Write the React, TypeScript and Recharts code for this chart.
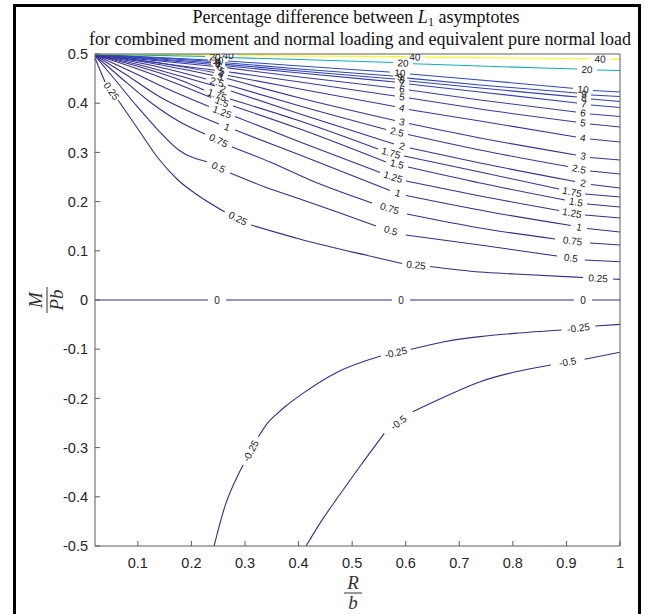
import React from 'react';
import { ComposedChart, Line, Scatter, XAxis, YAxis } from 'recharts';

type Pt = [number, number];
type Seg = Pt[];

const X_DOMAIN: [number, number] = [0.02, 1];
const Y_DOMAIN: [number, number] = [-0.5, 0.5];
const X_TICKS = [0.1, 0.2, 0.3, 0.4, 0.5, 0.6, 0.7, 0.8, 0.9, 1];
const Y_TICKS = [-0.5, -0.4, -0.3, -0.2, -0.1, 0, 0.1, 0.2, 0.3, 0.4, 0.5];
const LEVELS = [-0.5, -0.25, 0, 0.25, 0.5, 0.75, 1, 1.25, 1.5, 1.75, 2, 2.5, 3, 4, 5, 6, 7, 8, 9, 10, 20, 40];

// Contour lines (segments separated where the inline labels sit) and label positions
const cM050: Seg[] = [
  [[0.414, -0.5], [0.444, -0.447], [0.474, -0.4], [0.514, -0.339], [0.56, -0.271]],
  [[0.613, -0.227], [0.673, -0.1965], [0.739, -0.166], [0.805, -0.146], [0.871, -0.132]],
  [[0.934, -0.1205], [1.0, -0.1063]],
];
const lM050: Pt[] = [[0.5865, -0.249], [0.9025, -0.126]];

const cM025: Seg[] = [
  [[0.2423, -0.5], [0.2623, -0.42], [0.2886, -0.352], [0.2966, -0.3354]],
  [[0.325, -0.278], [0.3416, -0.2506], [0.358, -0.233], [0.3747, -0.2169], [0.408, -0.1897], [0.474, -0.1457], [0.5535, -0.1138]],
  [[0.6097, -0.1003], [0.6726, -0.0847], [0.7387, -0.0745], [0.8036, -0.0678], [0.891, -0.061]],
  [[0.954, -0.0528], [1.0, -0.0495]],
];
const lM025: Pt[] = [[0.3108, -0.3067], [0.5816, -0.107], [0.9225, -0.0569]];

const c000: Seg[] = [
  [[0.02, 0], [0.2309, 0]],
  [[0.2645, 0], [0.5744, 0]],
  [[0.608, 0], [0.9141, 0]],
  [[0.9478, 0], [1, 0]],
];
const l000: Pt[] = [[0.2477, 0], [0.5912, 0], [0.931, 0]];

const c025: Seg[] = [
  [[0.02, 0.4919], [0.0387, 0.4431]],
  [[0.0629, 0.4065], [0.104, 0.3415], [0.1376, 0.2886], [0.1749, 0.2439], [0.2085, 0.2154], [0.2623, 0.1789]],
  [[0.3112, 0.1524], [0.4083, 0.122], [0.5408, 0.0874], [0.593, 0.0742]],
  [[0.6454, 0.0681], [0.7387, 0.0569], [0.804, 0.0528], [0.931, 0.0457]],
  [[0.987, 0.0427], [1.0, 0.042]],
];
const l025: Pt[] = [[0.0508, 0.4248], [0.2868, 0.1656], [0.6192, 0.0711], [0.959, 0.0442]];

const c050: Seg[] = [
  [[0.02, 0.496], [0.0517, 0.4553], [0.0947, 0.3984], [0.1376, 0.3455], [0.1761, 0.3049], [0.2291, 0.2811]],
  [[0.272, 0.2581], [0.3373, 0.2297], [0.4079, 0.2033], [0.4774, 0.1768], [0.5446, 0.1504]],
  [[0.5998, 0.1321], [0.7387, 0.1118], [0.8824, 0.0894]],
  [[0.9341, 0.0813], [1.0, 0.0778]],
];
const l050: Pt[] = [[0.2506, 0.2696], [0.5722, 0.1413], [0.9083, 0.0854]];

const c075: Seg[] = [
  [[0.02, 0.497], [0.0667, 0.4533], [0.1227, 0.4024], [0.1787, 0.3618], [0.2253, 0.3374]],
  [[0.2757, 0.311], [0.3467, 0.2805], [0.4213, 0.2439], [0.5371, 0.1972]],
  [[0.6024, 0.1748], [0.7387, 0.1463], [0.8787, 0.124]],
  [[0.944, 0.1159], [1.0, 0.1118]],
];
const l075: Pt[] = [[0.2505, 0.3242], [0.5698, 0.186], [0.9114, 0.12]];

const c100: Seg[] = [
  [[0.02, 0.498], [0.076, 0.4593], [0.1413, 0.4126], [0.2067, 0.378], [0.2515, 0.3577]],
  [[0.2813, 0.3455], [0.4027, 0.2947], [0.5707, 0.2226]],
  [[0.6005, 0.2124], [0.7574, 0.1789], [0.9086, 0.1514]],
  [[0.9384, 0.1453], [1.0, 0.1382]],
];
const l100: Pt[] = [[0.2664, 0.3516], [0.5856, 0.2175], [0.9235, 0.1484]];

const c125: Seg[] = [
  [[0.02, 0.498], [0.0853, 0.4654], [0.16, 0.4268], [0.2328, 0.3933]],
  [[0.2813, 0.373], [0.4027, 0.3211], [0.552, 0.2591]],
  [[0.6005, 0.2419], [0.7387, 0.2114], [0.8862, 0.1819]],
  [[0.9347, 0.1728], [1.0, 0.1667]],
];
const l125: Pt[] = [[0.2571, 0.3821], [0.5763, 0.25], [0.9104, 0.1768]];

const c150: Seg[] = [
  [[0.02, 0.498], [0.0947, 0.4715], [0.1693, 0.4411], [0.2365, 0.4116]],
  [[0.2776, 0.3943], [0.4027, 0.3476], [0.5632, 0.2805]],
  [[0.6043, 0.2703], [0.7387, 0.2378], [0.8974, 0.2033]],
  [[0.9384, 0.1951], [1.0, 0.189]],
];
const l150: Pt[] = [[0.2571, 0.4024], [0.5837, 0.2764], [0.9179, 0.1992]];

const c175: Seg[] = [
  [[0.02, 0.498], [0.104, 0.4736], [0.1787, 0.4472], [0.2235, 0.4268]],
  [[0.272, 0.4085], [0.4027, 0.3638], [0.5483, 0.3069]],
  [[0.5968, 0.2927], [0.7387, 0.2602], [0.8862, 0.2256]],
  [[0.9347, 0.2154], [1.0, 0.2093]],
];
const l175: Pt[] = [[0.2477, 0.4167], [0.5725, 0.2988], [0.9104, 0.2195]];

const c200: Seg[] = [
  [[0.02, 0.498], [0.104, 0.4776], [0.1787, 0.4553], [0.244, 0.435]],
  [[0.2739, 0.4248], [0.4027, 0.378], [0.5781, 0.3171]],
  [[0.608, 0.3089], [0.7387, 0.2785], [0.916, 0.2409]],
  [[0.9459, 0.2348], [1.0, 0.2276]],
];
const l200: Pt[] = [[0.2589, 0.4289], [0.5931, 0.313], [0.931, 0.2378]];

const c250: Seg[] = [
  [[0.02, 0.498], [0.1227, 0.4776], [0.2272, 0.4492]],
  [[0.2683, 0.437], [0.4027, 0.3943], [0.5632, 0.3466]],
  [[0.6043, 0.3364], [0.7387, 0.3049], [0.9029, 0.2713]],
  [[0.944, 0.2622], [1.0, 0.2561]],
];
const l250: Pt[] = [[0.2477, 0.4431], [0.5837, 0.3415], [0.9235, 0.2663]];

const c300: Seg[] = [
  [[0.02, 0.498], [0.1227, 0.4817], [0.2403, 0.4563]],
  [[0.2664, 0.4502], [0.4027, 0.4106], [0.58, 0.3648]],
  [[0.6061, 0.3587], [0.7387, 0.3293], [0.9179, 0.2947]],
  [[0.944, 0.2896], [1.0, 0.2846]],
];
const l300: Pt[] = [[0.2533, 0.4533], [0.5931, 0.3618], [0.931, 0.2927]];

const c400: Seg[] = [
  [[0.02, 0.4984], [0.1413, 0.4817], [0.2421, 0.4624]],
  [[0.2683, 0.4563], [0.4027, 0.4289], [0.58, 0.3933]],
  [[0.6061, 0.3872], [0.7387, 0.3638], [0.9179, 0.3313]],
  [[0.944, 0.3272], [1.0, 0.3211]],
];
const l400: Pt[] = [[0.2552, 0.4593], [0.5931, 0.3902], [0.931, 0.3293]];

const c500: Seg[] = [
  [[0.02, 0.4986], [0.244, 0.4671]],
  [[0.2701, 0.4634], [0.4027, 0.4431], [0.58, 0.4146]],
  [[0.6061, 0.4106], [0.7387, 0.3882], [0.9179, 0.3618]],
  [[0.944, 0.3577], [1.0, 0.3516]],
];
const l500: Pt[] = [[0.2571, 0.4654], [0.5931, 0.4126], [0.931, 0.3598]];

const c600: Seg[] = [
  [[0.02, 0.4988], [0.2403, 0.4752]],
  [[0.2664, 0.472], [0.4027, 0.4533], [0.58, 0.4309]],
  [[0.6061, 0.4268], [0.7387, 0.4065], [0.9179, 0.3821]],
  [[0.944, 0.378], [1.0, 0.373]],
];
const l600: Pt[] = [[0.2533, 0.4736], [0.5931, 0.4289], [0.931, 0.3801]];

const c700: Seg[] = [
  [[0.02, 0.499], [0.2365, 0.4793]],
  [[0.2627, 0.476], [0.4027, 0.4614], [0.58, 0.4431]],
  [[0.6061, 0.439], [0.7387, 0.4228], [0.9198, 0.4004]],
  [[0.9459, 0.3963], [1.0, 0.3913]],
];
const l700: Pt[] = [[0.2496, 0.4776], [0.5931, 0.4411], [0.9328, 0.3984]];

const c800: Seg[] = [
  [[0.02, 0.4992], [0.2365, 0.4823]],
  [[0.2627, 0.4791], [0.4027, 0.4654], [0.58, 0.4492]],
  [[0.6061, 0.4451], [0.7387, 0.4309], [0.9198, 0.4126]],
  [[0.9459, 0.4085], [1.0, 0.4034]],
];
const l800: Pt[] = [[0.2496, 0.4807], [0.5931, 0.4472], [0.9328, 0.4106]];

const c900: Seg[] = [
  [[0.02, 0.4994], [0.2365, 0.4852]],
  [[0.2627, 0.4823], [0.4027, 0.4695], [0.5763, 0.4553]],
  [[0.6024, 0.4512], [0.7387, 0.437], [0.9198, 0.4207]],
  [[0.9459, 0.4167], [1.0, 0.4136]],
];
const l900: Pt[] = [[0.2496, 0.4837], [0.5893, 0.4533], [0.9328, 0.4187]];

const c1000: Seg[] = [
  [[0.02, 0.4996], [0.2309, 0.4878]],
  [[0.2683, 0.4858], [0.4027, 0.4756], [0.5707, 0.4634]],
  [[0.608, 0.4593], [0.7387, 0.4472], [0.9122, 0.4303]],
  [[0.9496, 0.4258], [1.0, 0.4228]],
];
const l1000: Pt[] = [[0.2496, 0.4868], [0.5893, 0.4614], [0.931, 0.4278]];

const c2000: Seg[] = [
  [[0.02, 0.4998], [0.2253, 0.4951]],
  [[0.2627, 0.4929], [0.4027, 0.4888], [0.5763, 0.4827]],
  [[0.6136, 0.4801], [0.7387, 0.4756], [0.9198, 0.4695]],
  [[0.9571, 0.4675], [1.0, 0.4665]],
];
const l2000: Pt[] = [[0.244, 0.4939], [0.5949, 0.4817], [0.9384, 0.4685]];

const c4000: Seg[] = [
  [[0.02, 0.4999], [0.2496, 0.498]],
  [[0.2869, 0.4965], [0.6024, 0.4947]],
  [[0.636, 0.4937], [0.944, 0.4902]],
  [[0.9814, 0.4894], [1.0, 0.489]],
];
const l4000: Pt[] = [[0.2683, 0.497], [0.6173, 0.4939], [0.9627, 0.4898]];

const CONTOUR_SEGS: Seg[][] = [cM050, cM025, c000, c025, c050, c075, c100, c125, c150, c175, c200, c250, c300, c400, c500, c600, c700, c800, c900, c1000, c2000, c4000];
const CONTOUR_LABELS: Pt[][] = [lM050, lM025, l000, l025, l050, l075, l100, l125, l150, l175, l200, l250, l300, l400, l500, l600, l700, l800, l900, l1000, l2000, l4000];

// ---- layout / style ----
const W = 645;
const H = 614;
const PLOT_L = 95;
const PLOT_R = 620;
const PLOT_T = 54;
const PLOT_B = 546;
const PX_PER_X = (PLOT_R - PLOT_L) / (X_DOMAIN[1] - X_DOMAIN[0]);
const PX_PER_Y = (PLOT_B - PLOT_T) / (Y_DOMAIN[1] - Y_DOMAIN[0]);

// parula colormap rows (index out of 63, r, g, b)
const PARULA: [number, number, number, number][] = [
  [0, 0.2081, 0.1663, 0.5292],
  [1, 0.2116, 0.1898, 0.5777],
  [2, 0.2123, 0.2138, 0.627],
  [3, 0.2081, 0.2386, 0.6771],
  [4, 0.1959, 0.2645, 0.7279],
  [5, 0.1707, 0.2919, 0.7792],
  [6, 0.1253, 0.3242, 0.8303],
  [8, 0.0117, 0.3875, 0.882],
  [12, 0.0498, 0.4586, 0.8641],
  [16, 0.0793, 0.52, 0.8312],
  [20, 0.0343, 0.5966, 0.8199],
  [24, 0.0228, 0.6535, 0.7768],
  [28, 0.0843, 0.6928, 0.7062],
  [32, 0.2178, 0.725, 0.6193],
  [63, 0.9763, 0.9831, 0.0538],
];

function parulaAt(p: number): string {
  let i = 0;
  while (i < PARULA.length - 2 && PARULA[i + 1][0] < p) i++;
  const a = PARULA[i];
  const b = PARULA[i + 1];
  const f = Math.max(0, Math.min(1, (p - a[0]) / (b[0] - a[0])));
  const c = [1, 2, 3].map((k) => Math.round((a[k] + (b[k] - a[k]) * f) * 255));
  return `rgb(${c[0]},${c[1]},${c[2]})`;
}

// colour position of each level on the colormap as it appears in the figure
function levelColor(level: number): string {
  if (level <= 10) return parulaAt(Math.max(0, (level + 0.5) * 0.45));
  return parulaAt(27 + ((level - 20) / 20) * (63 - 27));
}

const series = LEVELS.map((level, idx) => {
  const segs = CONTOUR_SEGS[idx];
  const labels = CONTOUR_LABELS[idx];
  const data: { x: number; y: number | null }[] = [];
  segs.forEach((s, i) => {
    if (i > 0) data.push({ x: labels[i - 1][0], y: null });
    s.forEach(([x, y]) => data.push({ x, y }));
  });
  const labelData = labels.map(([x, y], i) => {
    const a = segs[i][segs[i].length - 1];
    const b = segs[i + 1][0];
    const dx = (b[0] - a[0]) * PX_PER_X;
    const dy = -(b[1] - a[1]) * PX_PER_Y;
    let ang = (Math.atan2(dy, dx) * 180) / Math.PI;
    if (ang > 90) ang -= 180;
    if (ang < -90) ang += 180;
    return { x, y, text: String(level), angle: ang };
  });
  return { level, color: levelColor(level), data, labelData };
});

const ALL_LABELS = series.flatMap((s) => s.labelData);

const fmtTick = (v: number) => String(Math.round(v * 10) / 10);

const LabelShape = (props: any) => {
  const { cx, cy, payload } = props;
  if (cx == null || cy == null) return <g />;
  return (
    <text
      x={cx}
      y={cy}
      transform={`rotate(${payload.angle} ${cx} ${cy})`}
      textAnchor="middle"
      dominantBaseline="central"
      fontSize={10}
      fontFamily="'Liberation Sans', Arial, sans-serif"
      fill="#1a1a1a"
    >
      {payload.text}
    </text>
  );
};

const AXIS_COLOR = '#5c5c5c';
const TICK_STYLE = { fill: '#262626', fontSize: 14.5, fontFamily: "'Liberation Sans', Arial, sans-serif" };

export default function App() {
  return (
    <div style={{ position: 'absolute', left: 0, top: 0, width: W, height: H, background: '#fff' }}>
      <ComposedChart
        width={W}
        height={H}
        margin={{ top: PLOT_T - 5, right: W - PLOT_R - 5, bottom: H - PLOT_B - 30, left: PLOT_L - 45 }}
      >
        <XAxis
          xAxisId="b"
          type="number"
          dataKey="x"
          domain={X_DOMAIN}
          ticks={X_TICKS}
          allowDataOverflow
          interval={0}
          orientation="bottom"
          height={30}
          stroke={AXIS_COLOR}
          tickSize={-5}
          tickMargin={17}
          tick={TICK_STYLE}
          tickFormatter={fmtTick}
        />
        <XAxis
          xAxisId="t"
          type="number"
          dataKey="x"
          domain={X_DOMAIN}
          ticks={X_TICKS}
          allowDataOverflow
          interval={0}
          orientation="top"
          height={5}
          stroke={AXIS_COLOR}
          tickSize={-5}
          tick={false}
        />
        <YAxis
          yAxisId="l"
          type="number"
          dataKey="y"
          domain={Y_DOMAIN}
          ticks={Y_TICKS}
          allowDataOverflow
          interval={0}
          orientation="left"
          width={45}
          stroke={AXIS_COLOR}
          tickSize={-5}
          tickMargin={12}
          tick={TICK_STYLE}
          tickFormatter={fmtTick}
        />
        <YAxis
          yAxisId="r"
          type="number"
          dataKey="y"
          domain={Y_DOMAIN}
          ticks={Y_TICKS}
          allowDataOverflow
          interval={0}
          orientation="right"
          width={5}
          stroke={AXIS_COLOR}
          tickSize={-5}
          tick={false}
        />
        {series.map((s) => (
          <Line
            key={`c${s.level}`}
            xAxisId="b"
            yAxisId="l"
            data={s.data}
            dataKey="y"
            type="monotone"
            stroke={s.color}
            strokeWidth={1.1}
            dot={false}
            activeDot={false}
            connectNulls={false}
            isAnimationActive={false}
          />
        ))}
        <Scatter
          xAxisId="b"
          yAxisId="l"
          data={ALL_LABELS}
          shape={LabelShape}
          isAnimationActive={false}
        />
      </ComposedChart>
      <svg
        width={W}
        height={H}
        style={{ position: 'absolute', left: 0, top: 0, pointerEvents: 'none' }}
      >
        <rect x={14.5} y={5.5} width={625} height={700} fill="none" stroke="#000" strokeWidth={3} />
        <text
          x={356}
          y={23}
          textAnchor="middle"
          fontFamily="'Liberation Serif', 'DejaVu Serif', serif"
          fontSize={18}
          fill="#111"
          textLength={327}
          lengthAdjust="spacingAndGlyphs"
        >
          Percentage difference between <tspan fontStyle="italic">L</tspan>
          <tspan fontSize={12} dy={3}>1</tspan>
          <tspan dy={-3}> asymptotes</tspan>
        </text>
        <text
          x={360}
          y={45}
          textAnchor="middle"
          fontFamily="'Liberation Serif', 'DejaVu Serif', serif"
          fontSize={18}
          fill="#111"
          textLength={542}
          lengthAdjust="spacingAndGlyphs"
        >
          for combined moment and normal loading and equivalent pure normal load
        </text>
        <g fontFamily="'Liberation Serif', 'DejaVu Serif', serif" fontStyle="italic" fontSize={19} fill="#333">
          <text x={353} y={589} textAnchor="middle">R</text>
          <line x1={344} x2={362} y1={593} y2={593} stroke="#333" strokeWidth={1} />
          <text x={353} y={609} textAnchor="middle">b</text>
          <g transform="rotate(-90 47 300)">
            <text x={47} y={295} textAnchor="middle">M</text>
            <line x1={34} x2={60} y1={300} y2={300} stroke="#333" strokeWidth={1} />
            <text x={47} y={316} textAnchor="middle">Pb</text>
          </g>
        </g>
      </svg>
    </div>
  );
}
